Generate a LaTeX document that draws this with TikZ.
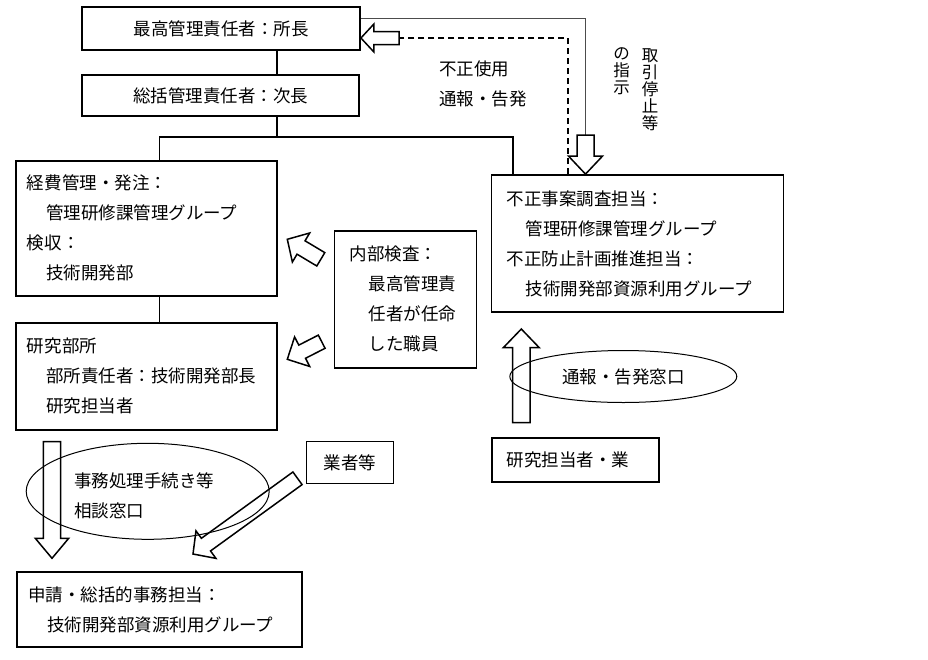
\documentclass[tikz,border=0pt]{standalone}
\usepackage{fontspec}
\setmainfont{Noto Sans CJK JP}
\usetikzlibrary{calc, shapes.geometric}
\tikzset{
every node/.style={font=\fontsize{17.5}{30}\selectfont}, % text size of the chart
box/.style={draw, line width=1.8pt, align=left, inner xsep=11pt, inner ysep=0pt}, % framed boxes
link/.style={line width=1.6pt}, % plain connectors
hollow/.style={draw, line width=1.5pt, line join=miter}, % open block arrows
window/.style={draw, ellipse, line width=1pt, inner sep=0pt}, % contact windows
vtext/.style={font=\fontsize{16.5}{17}\selectfont, align=center, inner sep=0pt}, % vertical writing
}
\newcommand{\indt}{\hspace*{19pt}}
\newcommand{\hollowarrow}[5]{% tail, tip, shaft half width, head half width, head length
  \coordinate (hb) at ($(#2)!#5!(#1)$);
  \draw[hollow] ($(#1)!#3!90:(#2)$) -- ($(hb)!#3!-90:(#1)$) -- ($(hb)!#4!-90:(#1)$) -- (#2)
    -- ($(hb)!#4!90:(#1)$) -- ($(hb)!#3!90:(#1)$) -- ($(#1)!#3!-90:(#2)$) -- cycle;
}

\begin{document}
\begin{tikzpicture}[x=1pt, y=-1pt]
\useasboundingbox (0,0) rectangle (928,659);

% boxes
\node[box, align=center, minimum width=278pt, minimum height=43pt] (chief) at (221,28.5) {最高管理責任者：所長};
\node[box, align=center, minimum width=277pt, minimum height=41pt] (general) at (220.5,95.5) {総括管理責任者：次長};
\node[box, text width=239pt, minimum height=135pt] (order) at (146.5,228.3) {経費管理・発注：\\\indt 管理研修課管理グループ\\検収：\\\indt 技術開発部};
\node[box, text width=239pt, minimum height=107pt] (lab) at (146.5,376.3) {研究部所\\\indt 部所責任者：技術開発部長\\\indt 研究担当者};
\node[box, inner xsep=15pt, text width=112pt, minimum height=137pt] (audit) at (405.5,299.3) {内部検査：\\\indt 最高管理責\\\indt 任者が任命\\\indt した職員};
\node[box, inner xsep=15pt, text width=262pt, minimum height=137pt] (probe) at (637.5,243.5) {不正事案調査担当：\\\indt 管理研修課管理グループ\\不正防止計画推進担当：\\\indt 技術開発部資源利用グループ};
\node[box, inner xsep=15pt, text width=137pt, minimum height=44pt] (staff) at (575.3,459.7) {研究担当者・業};
\node[box, align=center, minimum width=87pt, minimum height=42pt] (vendor) at (350,462.5) {業者等};
\node[box, text width=263pt, minimum height=75pt] (apply) at (159.5,609.5) {申請・総括的事務担当：\\\indt 技術開発部資源利用グループ};

% windows and labels
\node[window, minimum width=227pt, minimum height=52pt] (report) at (623.3,376.5) {通報・告発窓口};
\node[window, minimum width=243pt, minimum height=96pt] (consult) at (147.7,491.3) {};
\node[align=left] (consulttext) at (144,496.3) {事務処理手続き等\\相談窓口};
\node[align=left] (misuse) at (482.75,83.5) {不正使用\\通報・告発};
\node[vtext] (halt) at (650,89.5) {取\\引\\停\\止\\等};
\node[vtext] (instr) at (621.7,71) {の\\指\\示};

% plain connectors
\coordinate (split) at (277,137);
\coordinate (cL) at (159.3,137);
\coordinate (cR) at (513,137);
\draw[link] (chief.south -| split) -- (general.north -| split);
\draw[link] (general.south -| split) -- (split);
\draw[link] (order.north -| cL) -- (cL) -- (cR) -- (probe.north -| cR);
\draw[link] (order.south -| cL) -- (lab.north -| cL);

% stop order: chief -> probe
\coordinate (haltTop) at (585.5,18);
\coordinate (haltIn) at (585.5,135);
\coordinate (haltTip) at (probe.north -| haltIn);
\draw[line width=0.8pt, black!70] (chief.east |- haltTop) -| (haltIn);
\hollowarrow{haltIn}{haltTip}{8.5pt}{17pt}{18pt}

% report: probe -> chief
\coordinate (dashTurn) at (568,38);
\coordinate (tipIn) at (399,38);
\coordinate (tipA) at (chief.east |- tipIn);
\draw[line width=1.2pt, dash pattern=on 6pt off 4pt] (probe.north -| dashTurn) -- (dashTurn) -- (tipIn);
\hollowarrow{tipIn}{tipA}{6.5pt}{14pt}{13pt}

% audit arrows
\coordinate (auditUp) at (320.8,259.3);
\coordinate (auditUpTip) at (287.3,239.3);
\coordinate (auditDn) at (321.7,341.7);
\coordinate (auditDnTip) at (287.3,359.3);
\hollowarrow{auditUp}{auditUpTip}{7.8pt}{16.9pt}{16pt}
\hollowarrow{auditDn}{auditDnTip}{7.4pt}{16.6pt}{16.7pt}

% report window arrow
\coordinate (repTail) at (521.3,422.7);
\coordinate (repTip) at (521.3,329);
\hollowarrow{repTail}{repTip}{8.8pt}{18pt}{18.7pt}

% lab -> apply, vendor -> apply
\coordinate (labTail) at (52,441.7);
\coordinate (labTip) at (52,558.3);
\hollowarrow{labTail}{labTip}{8.7pt}{16.7pt}{20pt}
\coordinate (venTail) at (297.5,478.3);
\coordinate (venTip) at (193,554);
\hollowarrow{venTail}{venTip}{7.8pt}{17pt}{16pt}
\end{tikzpicture}
\end{document}
